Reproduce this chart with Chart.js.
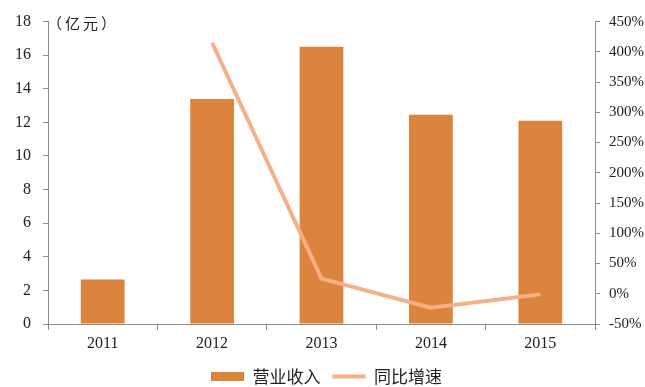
<!DOCTYPE html>
<html>
<head>
<meta charset="utf-8">
<script src="https://cdn.jsdelivr.net/npm/chart.js@4/dist/chart.umd.min.js"></script>
<style>
  html, body { margin: 0; padding: 0; background: #fff; }
  #wrap { width: 645px; height: 387px; }
</style>
</head>
<body>
<div id="wrap"><canvas id="revenueChart"></canvas></div>
<script>
const years = ["2011", "2012", "2013", "2014", "2015"];
const revenue = [2.65, 13.4, 16.5, 12.45, 12.1];      // 亿元
const growth = [null, 415, 25, -23, -1];               // %

const barColor = "#DB843D";
const lineColor = "#F6B087";
const axisColor = "#8c8c8c";
const serif = "'Liberation Serif', 'Times New Roman', serif";
const cjk = "'Noto Sans CJK SC', serif";

// unit label above the left axis
const unitLabel = {
  id: "unitLabel",
  afterDraw(chart) {
    const ctx = chart.ctx;
    const area = chart.chartArea;
    ctx.save();
    ctx.fillStyle = "#222";
    ctx.font = "15px " + cjk;
    ctx.textBaseline = "middle";
    ctx.letterSpacing = "3px";
    ctx.fillText("（亿元）", area.left - 1, area.top + 2);
    ctx.restore();
  }
};

// fixed legend strip height so the plot gets the room
const legendHeight = {
  id: "legendHeight",
  afterInit(chart) {
    const legend = chart.legend;
    const fit = legend.fit.bind(legend);
    legend.fit = function () {
      fit();
      this.height = 31;
    };
  }
};

const ctx = document.getElementById("revenueChart").getContext("2d");
const chart = new Chart(ctx, {
  data: {
    labels: years,
    datasets: [
      {
        type: "line",
        label: "同比增速",
        data: growth,
        yAxisID: "y1",
        borderColor: lineColor,
        backgroundColor: lineColor,
        borderWidth: 4,
        pointRadius: 0,
        tension: 0,
        order: 0
      },
      {
        type: "bar",
        label: "营业收入",
        data: revenue,
        yAxisID: "y",
        backgroundColor: barColor,
        categoryPercentage: 1,
        barPercentage: 0.4,
        order: 1
      }
    ]
  },
  options: {
    responsive: true,
    maintainAspectRatio: false,
    animation: false,
    layout: { padding: { top: 11, right: 0, left: 8, bottom: 0 } },
    plugins: {
      tooltip: { enabled: false },
      legend: {
        position: "bottom",
        reverse: true,
        labels: {
          usePointStyle: true,
          pointStyleWidth: 33,
          boxHeight: 9,
          padding: 12,
          color: "#222",
          font: { size: 17, family: cjk },
          generateLabels(chart) {
            return chart.data.datasets.map((ds, i) => ({
              text: ds.label,
              fillStyle: ds.type === "bar" ? barColor : lineColor,
              strokeStyle: ds.type === "bar" ? barColor : lineColor,
              lineWidth: ds.type === "bar" ? 0 : 4,
              pointStyle: ds.type === "bar" ? "rect" : "line",
              fontColor: "#222",
              hidden: false,
              datasetIndex: i
            }));
          }
        }
      }
    },
    scales: {
      x: {
        offset: true,
        afterFit(scale) { scale.height = 32; },
        grid: {
          offset: true,
          drawOnChartArea: false,
          color: axisColor,
          tickLength: 6
        },
        border: { color: axisColor, width: 1 },
        ticks: {
          color: "#222",
          padding: 4,
          font: { size: 16, family: serif }
        }
      },
      y: {
        position: "left",
        min: 0,
        max: 18,
        afterFit(scale) { scale.width = 40; },
        grid: { drawOnChartArea: false, color: axisColor, tickLength: 5 },
        border: { color: axisColor, width: 1 },
        ticks: {
          stepSize: 2,
          color: "#222",
          padding: 12,
          font: { size: 16, family: serif }
        }
      },
      y1: {
        position: "right",
        min: -50,
        max: 450,
        afterFit(scale) { scale.width = 50; },
        grid: { drawOnChartArea: false, color: axisColor, tickLength: 5 },
        border: { color: axisColor, width: 1 },
        ticks: {
          stepSize: 50,
          color: "#222",
          padding: 9,
          font: { size: 15, family: serif },
          callback: (v) => v + "%"
        }
      }
    }
  },
  plugins: [unitLabel, legendHeight]
});
</script>
</body>
</html>
